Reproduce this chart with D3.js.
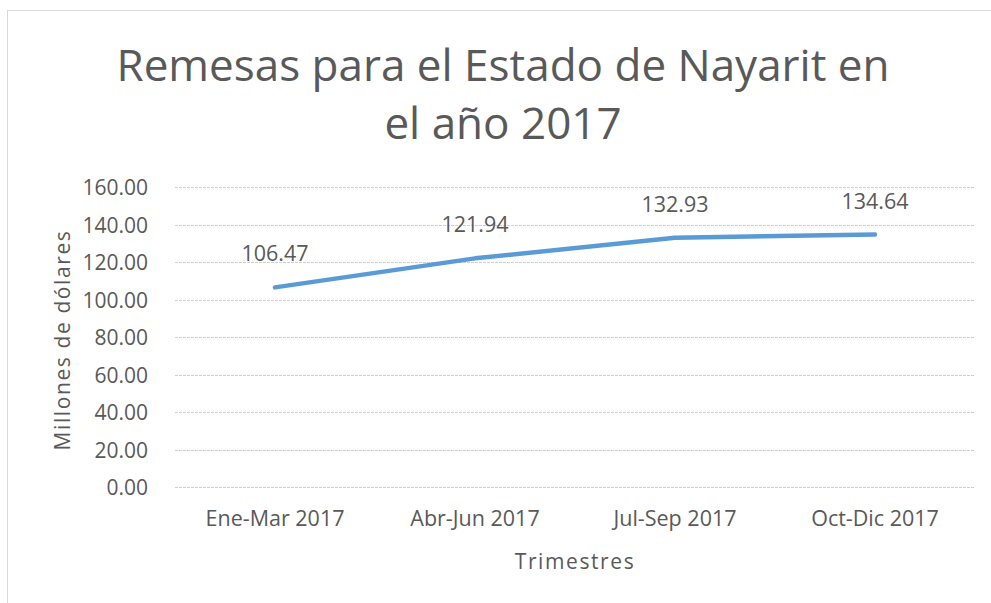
<!DOCTYPE html>
<html>
<head>
<meta charset="utf-8">
<script src="https://cdn.jsdelivr.net/npm/d3@7"></script>
<style>
  body { margin: 0; background: #fff; }
  svg text { font-family: "Open Sans", sans-serif; fill: #595959; }
</style>
</head>
<body>
<script>
// datos
var trimestres = ["Ene-Mar 2017", "Abr-Jun 2017", "Jul-Sep 2017", "Oct-Dic 2017"];
var remesas = [106.47, 121.94, 132.93, 134.64];
var yTicks = [0, 20, 40, 60, 80, 100, 120, 140, 160];
var titulo = ["Remesas para el Estado de Nayarit en", "el año 2017"];

var width = 991, height = 603;
var margin = { top: 187, right: 16, bottom: 116, left: 175 };

var svg = d3.select("body").append("svg")
	.attr("width", width)
	.attr("height", height);

// marco del grafico
svg.append("rect")
	.attr("x", 7.5).attr("y", 10.5)
	.attr("width", 1000).attr("height", 1000)
	.attr("fill", "none")
	.attr("stroke", "#d9d9d9");

var x = d3.scaleBand()
	.domain(trimestres)
	.range([margin.left, width - margin.right]);

var y = d3.scaleLinear()
	.domain([0, 160])
	.range([height - margin.bottom, margin.top]);

// lineas de cuadricula
svg.append("g")
	.selectAll("line")
	.data(yTicks)
	.enter()
	.append("line")
	.attr("x1", margin.left)
	.attr("x2", width - margin.right)
	.attr("y1", function (d) { return Math.round(y(d)) + 0.5; })
	.attr("y2", function (d) { return Math.round(y(d)) + 0.5; })
	.attr("stroke", "#cfcfcf")
	.attr("stroke-dasharray", "3,1")
	.attr("stroke-width", 1);

// eje y
var yAxis = svg.append("g")
	.attr("transform", "translate(" + (margin.left - 24) + ",0)")
	.call(d3.axisLeft(y).tickValues(yTicks).tickFormat(d3.format(".2f")).tickSize(0));
yAxis.select(".domain").remove();
yAxis.selectAll("text")
	.attr("font-size", 21)
	.attr("dy", "0.36em")
	.style("font-family", "'Open Sans', sans-serif")
	.attr("fill", "#595959");

// eje x
var xAxis = svg.append("g")
	.attr("transform", "translate(0," + (height - margin.bottom) + ")")
	.call(d3.axisBottom(x).tickSize(0));
xAxis.select(".domain").remove();
xAxis.selectAll("text")
	.attr("font-size", 21.5)
	.attr("y", 39)
	.attr("dy", 0)
	.style("font-family", "'Open Sans', sans-serif")
	.attr("fill", "#595959");

// linea de la serie
var line = d3.line()
	.x(function (d, i) { return x(trimestres[i]) + x.bandwidth() / 2; })
	.y(function (d) { return y(d); });

svg.append("path")
	.datum(remesas)
	.attr("d", line)
	.attr("fill", "none")
	.attr("stroke", "#5b9bd5")
	.attr("stroke-width", 4.5)
	.attr("stroke-linecap", "round")
	.attr("stroke-linejoin", "round");

// etiquetas de datos
svg.append("g")
	.selectAll("text")
	.data(remesas)
	.enter()
	.append("text")
	.attr("x", function (d, i) { return x(trimestres[i]) + x.bandwidth() / 2; })
	.attr("y", function (d) { return y(d) - 26; })
	.attr("text-anchor", "middle")
	.attr("font-size", 21.5)
	.text(function (d) { return d.toFixed(2); });

// titulo
svg.append("g")
	.selectAll("text")
	.data(titulo)
	.enter()
	.append("text")
	.attr("x", 503)
	.attr("y", function (d, i) { return 81 + i * 58; })
	.attr("text-anchor", "middle")
	.attr("font-size", 44)
	.text(function (d) { return d; });

// titulos de ejes
svg.append("text")
	.attr("transform", "translate(70," + (margin.top + (height - margin.bottom - margin.top) / 2 + 3) + ") rotate(-90)")
	.attr("text-anchor", "middle")
	.attr("font-size", 21)
	.attr("letter-spacing", 1.6)
	.text("Millones de dólares");

svg.append("text")
	.attr("x", margin.left + (width - margin.right - margin.left) / 2)
	.attr("y", 569)
	.attr("text-anchor", "middle")
	.attr("font-size", 21)
	.attr("letter-spacing", 1.6)
	.text("Trimestres");
</script>
</body>
</html>
